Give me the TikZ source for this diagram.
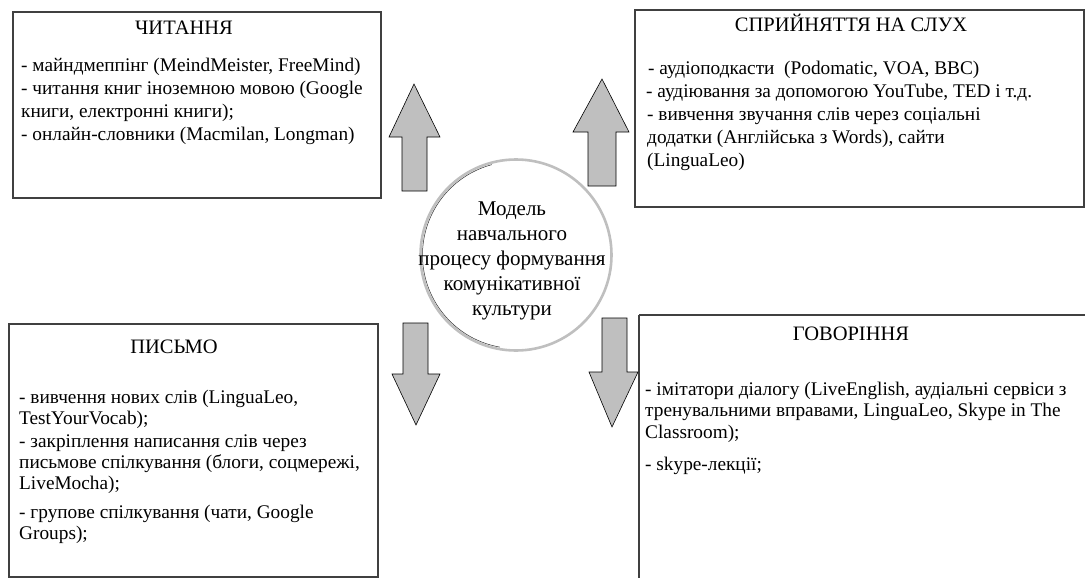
\documentclass[tikz,border=0pt]{standalone}
\usepackage{fontspec}
\setmainfont{Liberation Serif}
\usetikzlibrary{calc}
% a block of left-aligned lines whose baseline is the first line's
\newcommand{\panellines}[1]{\begin{tabular}[t]{@{}l@{}}#1\end{tabular}}
\begin{document}
\begin{tikzpicture}[x=1pt,y=-1pt,
  panel/.style={draw=black!75,line width=1.1pt},
  heading/.style={anchor=base,font=\fontsize{20.5}{22}\selectfont,inner sep=0pt},
  body/.style={anchor=base west,inner sep=0pt},
  blockarrow/.style={draw=black,line width=0.6pt,fill=black!25,line join=miter}]
\useasboundingbox (0,0) rectangle (1085,578);

% four panels
\draw[panel] (13,12) rectangle (381,198);
\draw[panel] (635,10) rectangle (1084,207);
\draw[panel] (9,324) rectangle (378,577);
\draw[panel] (639,315) -- (1090,315);
\draw[panel] (639,315) -- (639,590);

% headings
\node[heading] (hread) at (184,35) {ЧИТАННЯ};
\node[heading] (hlisten) at (851,32) {СПРИЙНЯТТЯ НА СЛУХ};
\node[heading] (hwrite) at (174,353) {ПИСЬМО};
\node[heading] (hspeak) at (851,340) {ГОВОРІННЯ};

% panel contents
\node[body,font=\fontsize{19.3}{22.7}\selectfont] (tread) at (21,72)
  {\panellines{- майндмеппінг (MeindMeister, FreeMind)\\
   - читання книг іноземною мовою (Google\\
   книги, електронні книги);\\
   - онлайн-словники (Macmilan, Longman)}};

\node[body,font=\fontsize{19.3}{22.8}\selectfont] (tlisten) at (646,75)
  {\panellines{\hspace{2pt}- аудіоподкасти\ \ (Podomatic, VOA, BBC)\\
   - аудіювання за допомогою YouTube, TED і т.д.\\
   \hspace{1pt}- вивчення звучання слів через соціальні\\
   \hspace{1pt}додатки (Англійська з Words), сайти\\
   \hspace{1pt}(LinguaLeo)}};

\node[body,font=\fontsize{19.3}{21}\selectfont] (twrite) at (19,403)
  {\panellines{- вивчення нових слів (LinguaLeo,\\
   TestYourVocab);\\[2pt]
   - закріплення написання слів через\\
   письмове спілкування (блоги, соцмережі,\\
   LiveMocha);\\[8pt]
   - групове спілкування (чати, Google\\
   Groups);}};

\node[body,font=\fontsize{19.3}{21.5}\selectfont] (tspeak) at (645,395)
  {\panellines{- імітатори діалогу (LiveEnglish, аудіальні сервіси з\\
   тренувальними вправами, LinguaLeo, Skype in The\\
   Classroom);\\[10.5pt]
   - skype-лекції;}};

% centre circle
\node[circle,draw=black!25,line width=2.6pt,minimum size=191pt,inner sep=0pt]
  (core) at (516,255) {};
\draw[line width=0.5pt,black!80]
  ($(core.center)+(100:93.5)$) arc[start angle=100,end angle=255,radius=93.5];
\node[align=center,font=\fontsize{21}{25}\selectfont,inner sep=0pt] (ctext) at (512,261)
  {Модель\\навчального\\процесу формування\\комунікативної\\культури};

% block arrows
\draw[blockarrow] (402,191) -- (402,137) -- (389,137) -- (414,84) -- (440,137) -- (427,137) -- (427,191) -- cycle;
\draw[blockarrow] (588,186) -- (588,132) -- (573,132) -- (602,79) -- (629,132) -- (616,132) -- (616,186) -- cycle;
\draw[blockarrow] (403,323) -- (403,374) -- (392,374) -- (416,425) -- (440,374) -- (428,374) -- (428,323) -- cycle;
\draw[blockarrow] (602,318) -- (602,372) -- (589,372) -- (612,427) -- (638,372) -- (627,372) -- (627,318) -- cycle;
\end{tikzpicture}
\end{document}
